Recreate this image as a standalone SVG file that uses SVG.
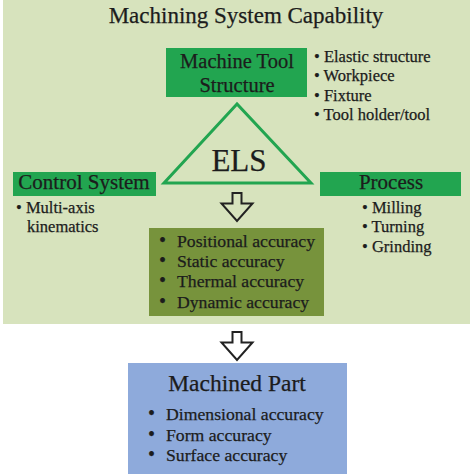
<svg xmlns="http://www.w3.org/2000/svg" width="474" height="474" viewBox="0 0 474 474">
<style>
text{font-family:"Liberation Serif","Times New Roman",serif;fill:#1c1c1c;stroke:#1c1c1c;stroke-width:0.25}
.t{font-size:23px}
.h{font-size:20.5px}
.b{font-size:16.5px}
.o{font-size:17.7px}
.d{font-size:20px}
.arrow{fill:none;stroke:#222;stroke-width:2;stroke-linejoin:miter}
</style>
<rect x="0" y="0" width="474" height="474" fill="#ffffff"/>
<rect id="panel" x="3" y="0" width="467" height="324" fill="#d7e3bd"/>
<text class="t" x="246" y="23" text-anchor="middle">Machining System Capability</text>

<g id="machine-tool">
<rect x="166" y="48" width="141" height="49" fill="#22a550"/>
<text class="h" x="237" y="68" text-anchor="middle">Machine Tool</text>
<text class="h" x="237" y="92" text-anchor="middle">Structure</text>
</g>
<g id="machine-tool-list">
<text class="b" x="314" y="62">• Elastic structure</text>
<text class="b" x="314" y="81">• Workpiece</text>
<text class="b" x="314" y="101">• Fixture</text>
<text class="b" x="314" y="120">• Tool holder/tool</text>
</g>

<g id="els">
<polygon points="237,104 164,183 311,183" fill="none" stroke="#22a550" stroke-width="3"/>
<text x="239" y="171" text-anchor="middle" font-size="31">ELS</text>
</g>

<g id="control-system">
<rect x="13" y="172" width="143" height="24" fill="#22a550"/>
<text x="84" y="189" text-anchor="middle" font-size="21">Control System</text>
<text class="b" x="16" y="213">• Multi-axis</text>
<text class="b" x="27" y="232">kinematics</text>
</g>

<g id="process">
<rect x="320" y="172" width="141" height="24" fill="#22a550"/>
<text x="391" y="189" text-anchor="middle" font-size="21">Process</text>
<text class="b" x="362" y="213">• Milling</text>
<text class="b" x="362" y="232">• Turning</text>
<text class="b" x="362" y="252">• Grinding</text>
</g>

<g id="accuracy">
<rect x="149" y="228" width="175" height="88" fill="#77933c"/>
<text class="o" x="177" y="247"><tspan class="d" x="159">•</tspan><tspan x="177">Positional accuracy</tspan></text>
<text class="o" x="177" y="267"><tspan class="d" x="159">•</tspan><tspan x="177">Static accuracy</tspan></text>
<text class="o" x="177" y="287"><tspan class="d" x="159">•</tspan><tspan x="177">Thermal accuracy</tspan></text>
<text class="o" x="177" y="308"><tspan class="d" x="159">•</tspan><tspan x="177">Dynamic accuracy</tspan></text>
</g>

<g id="machined-part">
<rect x="128" y="363" width="219" height="111" fill="#8eaadb"/>
<text x="237" y="391" text-anchor="middle" font-size="23.5">Machined Part</text>
<text class="o" x="166" y="420"><tspan class="d" x="148">•</tspan><tspan x="166">Dimensional accuracy</tspan></text>
<text class="o" x="166" y="441"><tspan class="d" x="148">•</tspan><tspan x="166">Form accuracy</tspan></text>
<text class="o" x="166" y="461"><tspan class="d" x="148">•</tspan><tspan x="166">Surface accuracy</tspan></text>
</g>

<g id="connectors">
<path class="arrow" d="M232.5,193 H241.5 V203.5 H252.5 L237,221 L221.5,203.5 H232.5 Z"/>
<path class="arrow" d="M232.5,332 H241.5 V342.5 H252.5 L237,360 L221.5,342.5 H232.5 Z"/>
</g>
</svg>
